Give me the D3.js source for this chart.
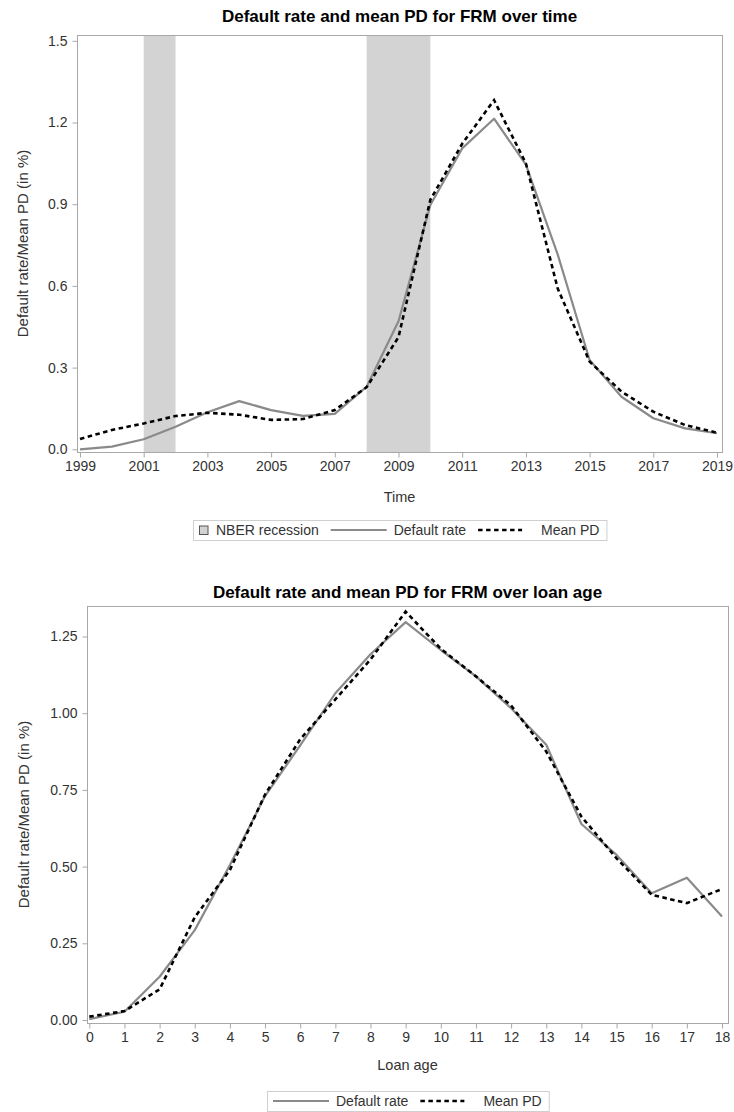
<!DOCTYPE html>
<html>
<head>
<meta charset="utf-8">
<script src="https://cdn.jsdelivr.net/npm/d3@7"></script>
<style>
  body { margin: 0; background: #fff; }
  svg { display: block; font-family: "Liberation Sans", Arial, sans-serif; }
</style>
</head>
<body>
<svg id="chart" width="734" height="1112"></svg>
<script>
// ---- Data: default rate and mean PD over calendar time ----
const years = [1999, 2000, 2001, 2002, 2003, 2004, 2005, 2006, 2007, 2008, 2009,
               2010, 2011, 2012, 2013, 2014, 2015, 2016, 2017, 2018, 2019];
const timeDefaultRate = [0.000, 0.010, 0.037, 0.083, 0.136, 0.177, 0.144, 0.123, 0.130, 0.230, 0.470,
                         0.897, 1.105, 1.214, 1.045, 0.715, 0.328, 0.193, 0.114, 0.077, 0.059];
const timeMeanPD = [0.038, 0.071, 0.095, 0.122, 0.134, 0.127, 0.108, 0.111, 0.144, 0.228, 0.412,
                    0.916, 1.122, 1.282, 1.050, 0.590, 0.322, 0.212, 0.138, 0.089, 0.061];
// NBER recession periods (start, end)
const recessions = [[2001, 2002], [2008, 2010]];
const timeTicks = [1999, 2001, 2003, 2005, 2007, 2009, 2011, 2013, 2015, 2017, 2019];
const timeYTicks = [0.0, 0.3, 0.6, 0.9, 1.2, 1.5];

// ---- Data: default rate and mean PD over loan age ----
const ages = [0, 1, 2, 3, 4, 5, 6, 7, 8, 9, 10, 11, 12, 13, 14, 15, 16, 17, 18];
const ageDefaultRate = [0.003, 0.027, 0.141, 0.293, 0.505, 0.730, 0.895, 1.065, 1.192, 1.297,
                        1.206, 1.120, 1.016, 0.897, 0.639, 0.538, 0.413, 0.464, 0.337];
const ageMeanPD = [0.011, 0.029, 0.100, 0.335, 0.489, 0.735, 0.915, 1.045, 1.175, 1.331,
                   1.210, 1.120, 1.025, 0.875, 0.663, 0.527, 0.408, 0.381, 0.427];
const ageYTicks = [0.00, 0.25, 0.50, 0.75, 1.00, 1.25];

// ---- Styles ----
const FRAME = "#a8a8a8";
const TICK_TEXT = "#333";
const SOLID = "#8a8a8a";
const SHADE = "#d3d3d3";
const DASH = "4.5,3.5";

const svg = d3.select("#chart");
svg.append("rect").attr("width", 734).attr("height", 1112).attr("fill", "#fff");

function drawPanel(cfg) {
  const g = svg.append("g");
  const { frame } = cfg;
  const x = d3.scaleLinear().domain(cfg.xDomain).range(cfg.xRange);
  const y = d3.scaleLinear().domain(cfg.yDomain).range(cfg.yRange);

  // title
  g.append("text")
    .attr("x", (frame.left + frame.right) / 2).attr("y", cfg.titleY)
    .attr("text-anchor", "middle").attr("font-size", 17).attr("font-weight", "bold")
    .attr("fill", "#000").text(cfg.title);

  // shaded bands
  if (cfg.bands) {
    g.selectAll("rect.band").data(cfg.bands).join("rect")
      .attr("class", "band")
      .attr("x", d => x(d[0])).attr("width", d => x(d[1]) - x(d[0]))
      .attr("y", frame.top).attr("height", frame.bottom - frame.top)
      .attr("fill", SHADE);
  }

  // plot frame
  g.append("rect")
    .attr("x", frame.left + 0.5).attr("y", frame.top + 0.5)
    .attr("width", frame.right - frame.left).attr("height", frame.bottom - frame.top)
    .attr("fill", "none").attr("stroke", FRAME).attr("stroke-width", 1);

  // x axis
  const xAxis = d3.axisBottom(x).tickValues(cfg.xTicks).tickSize(5).tickPadding(4)
    .tickFormat(d3.format("d"));
  const gx = g.append("g").attr("transform", `translate(0,${frame.bottom + 0.5})`).call(xAxis);
  gx.select(".domain").remove();
  gx.selectAll("line").attr("stroke", FRAME);
  gx.selectAll("text").attr("font-size", 14).attr("fill", TICK_TEXT).attr("font-family", null);

  // y axis
  const yAxis = d3.axisLeft(y).tickValues(cfg.yTicks).tickSize(5).tickPadding(5)
    .tickFormat(d3.format(cfg.yFormat));
  const gy = g.append("g").attr("transform", `translate(${frame.left + 0.5},0)`).call(yAxis);
  gy.select(".domain").remove();
  gy.selectAll("line").attr("stroke", FRAME);
  gy.selectAll("text").attr("font-size", 14).attr("fill", TICK_TEXT).attr("font-family", null);

  // axis labels
  g.append("text")
    .attr("x", (frame.left + frame.right) / 2).attr("y", cfg.xLabelY)
    .attr("text-anchor", "middle").attr("font-size", 14.5).attr("fill", TICK_TEXT)
    .text(cfg.xLabel);
  g.append("text")
    .attr("transform", `translate(${cfg.yLabelX},${(frame.top + frame.bottom) / 2}) rotate(-90)`)
    .attr("text-anchor", "middle").attr("dominant-baseline", "central")
    .attr("font-size", 15).attr("fill", TICK_TEXT)
    .text("Default rate/Mean PD (in %)");

  // series
  const line = d3.line().x(d => x(d[0])).y(d => y(d[1]));
  g.append("path").datum(d3.zip(cfg.xs, cfg.solid))
    .attr("d", line).attr("fill", "none").attr("stroke", SOLID)
    .attr("stroke-width", 2.2).attr("stroke-linejoin", "round");
  g.append("path").datum(d3.zip(cfg.xs, cfg.dashed))
    .attr("d", line).attr("fill", "none").attr("stroke", "#000")
    .attr("stroke-width", 2.6).attr("stroke-dasharray", DASH);

  // legend
  drawLegend(g, cfg.legend, (frame.left + frame.right) / 2, cfg.legendTop);
}

function drawLegend(g, items, cx, top) {
  const H = 20, PAD_L = 6, PAD_R = 7, ITEM_GAP = 12;
  const lg = g.append("g");
  const box = lg.append("rect").attr("fill", "#fff").attr("stroke", "#cfcfcf");
  let xPos = PAD_L;
  const midY = H / 2;
  items.forEach((it, i) => {
    if (i > 0) xPos += ITEM_GAP;
    let symW, gap;
    if (it.type === "rect") {
      symW = 9; gap = 8;
      lg.append("rect").attr("x", xPos + 0.5).attr("y", midY - 4.5 + 0.5)
        .attr("width", 8.5).attr("height", 8.5)
        .attr("fill", SHADE).attr("stroke", "#555").attr("stroke-width", 1);
    } else if (it.type === "solid") {
      symW = 56; gap = 7;
      lg.append("line").attr("x1", xPos).attr("x2", xPos + symW)
        .attr("y1", midY).attr("y2", midY)
        .attr("stroke", SOLID).attr("stroke-width", 2.2);
    } else {
      symW = 44; gap = 19;
      lg.append("line").attr("x1", xPos).attr("x2", xPos + symW)
        .attr("y1", midY).attr("y2", midY)
        .attr("stroke", "#000").attr("stroke-width", 2.6).attr("stroke-dasharray", DASH);
    }
    xPos += symW + gap;
    const t = lg.append("text").attr("x", xPos).attr("y", midY + 5)
      .attr("font-size", 14).attr("fill", TICK_TEXT).text(it.label);
    xPos += t.node().getComputedTextLength();
  });
  const W = xPos + PAD_R;
  box.attr("x", 0.5).attr("y", 0.5).attr("width", W).attr("height", H);
  lg.attr("transform", `translate(${Math.round(cx - W / 2)},${top})`);
}

// Panel 1: over time
drawPanel({
  title: "Default rate and mean PD for FRM over time",
  titleY: 21.5,
  frame: { left: 77, right: 722, top: 35, bottom: 452 },
  xDomain: [1999, 2019], xRange: [80, 717],
  yDomain: [0, 1.5], yRange: [449.3, 40.8],
  xTicks: timeTicks, yTicks: timeYTicks, yFormat: ".1f",
  xLabel: "Time", xLabelY: 501.5, yLabelX: 22,
  xs: years, solid: timeDefaultRate, dashed: timeMeanPD,
  bands: recessions,
  legend: [
    { type: "rect", label: "NBER recession" },
    { type: "solid", label: "Default rate" },
    { type: "dash", label: "Mean PD" }
  ],
  legendTop: 520
});

// Panel 2: over loan age
drawPanel({
  title: "Default rate and mean PD for FRM over loan age",
  titleY: 597.5,
  frame: { left: 87, right: 728, top: 606, bottom: 1023 },
  xDomain: [0, 18], xRange: [89.3, 722],
  yDomain: [0, 1.25], yRange: [1020, 636.5],
  xTicks: ages, yTicks: ageYTicks, yFormat: ".2f",
  xLabel: "Loan age", xLabelY: 1070, yLabelX: 23,
  xs: ages, solid: ageDefaultRate, dashed: ageMeanPD,
  bands: null,
  legend: [
    { type: "solid", label: "Default rate" },
    { type: "dash", label: "Mean PD" }
  ],
  legendTop: 1091
});
</script>
</body>
</html>
